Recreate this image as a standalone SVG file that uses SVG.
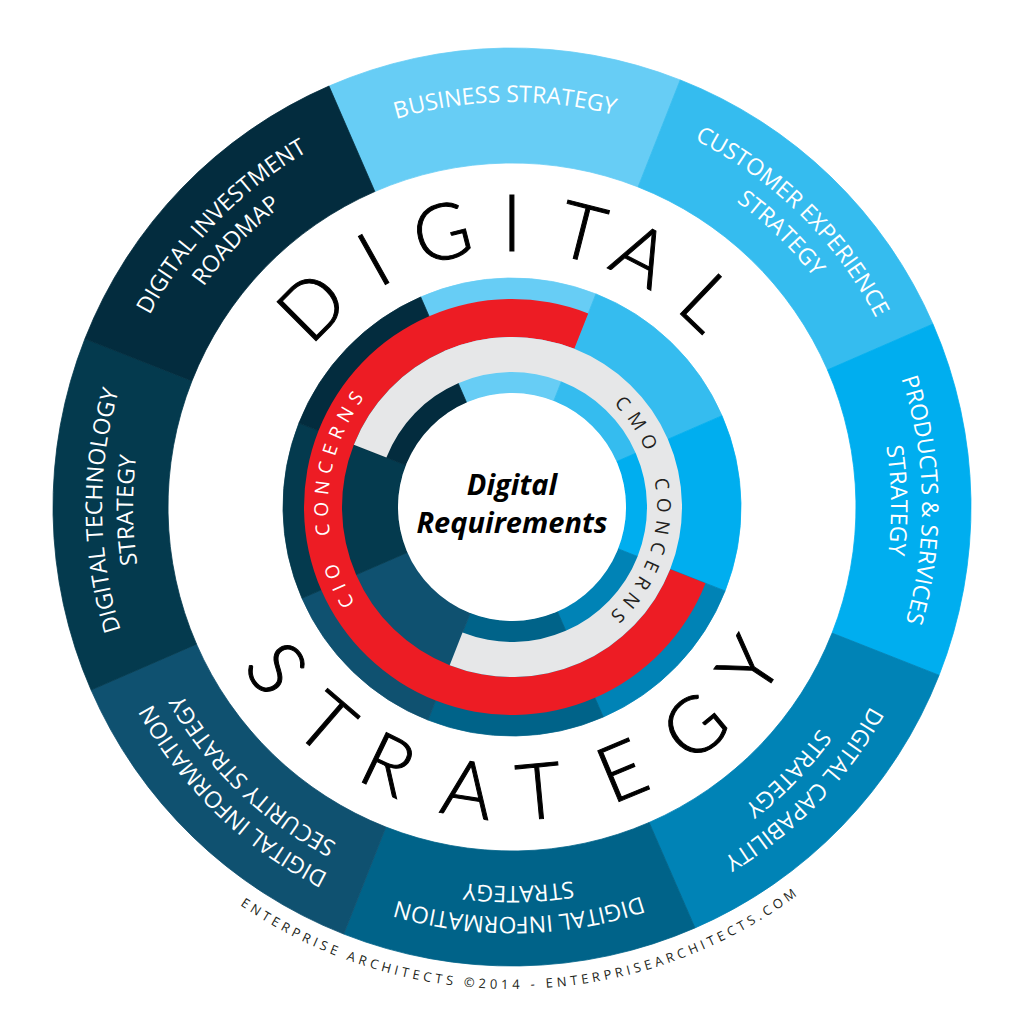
<svg xmlns="http://www.w3.org/2000/svg" width="1024" height="1016" viewBox="0 0 1024 1016">
<style>
.seg{stroke-width:0.8}
.c0{fill:#67CDF5;stroke:#67CDF5}
.c1{fill:#35BCEF;stroke:#35BCEF}
.c2{fill:#00AEEF;stroke:#00AEEF}
.c3{fill:#0083B6;stroke:#0083B6}
.c4{fill:#006389;stroke:#006389}
.c5{fill:#0F5170;stroke:#0F5170}
.c6{fill:#043A4E;stroke:#043A4E}
.c7{fill:#032C3E;stroke:#032C3E}
.lbl{font-family:"Open Sans","Noto Sans",sans-serif;font-size:23px;fill:#FFFFFF;text-anchor:middle}
.big{font-family:Lato,"Open Sans",sans-serif;font-weight:300;font-size:78px;fill:#000000;stroke:#000000;stroke-width:1;text-anchor:middle}
.concern{font-family:"Open Sans","Noto Sans",sans-serif;font-size:19px;text-anchor:middle}
.center{font-family:"Open Sans","Noto Sans",sans-serif;font-weight:700;font-style:italic;font-size:29px;fill:#000000;text-anchor:middle}
.foot{font-family:"Open Sans","Noto Sans",sans-serif;font-size:13px;fill:#231F20;text-anchor:middle;letter-spacing:3.9px}
</style>
<defs>
<path id="r405" d="M107,507 A405,405 0 0 1 917,507"/>
<path id="r410" d="M102,507 A410,410 0 0 1 922,507"/>
<path id="r379" d="M133,507 A379,379 0 0 1 891,507"/>
<path id="r184" d="M328,507 A184,184 0 0 1 696,507"/>
<path id="r145" d="M367,507 A145,145 0 0 1 657,507"/>
<path id="r482" d="M30,507 A482,482 0 0 0 994,507"/>
</defs>
<rect width="1024" height="1016" fill="#FFFFFF"/>

<g id="outer-ring">
<g id="business-strategy">
<path class="seg c0" d="M328.97,86.07 A459,459 0 0 1 680.22,79.94 L638.08,186.94 A344,344 0 0 0 374.83,191.53 Z"/>
<g transform="rotate(-1 512 507)"><text class="lbl"><textPath href="#r405" startOffset="50%">BUSINESS STRATEGY</textPath></text></g>
</g>
<g id="customer-experience-strategy">
<path class="seg c1" d="M680.22,79.94 A459,459 0 0 1 932.93,323.97 L827.47,369.83 A344,344 0 0 0 638.08,186.94 Z"/>
<g transform="rotate(44.5 512 507)"><text class="lbl"><textPath href="#r410" startOffset="50%">CUSTOMER EXPERIENCE</textPath></text><text class="lbl"><textPath href="#r379" startOffset="50%">STRATEGY</textPath></text></g>
</g>
<g id="products-services-strategy">
<path class="seg c2" d="M932.93,323.97 A459,459 0 0 1 939.06,675.22 L832.06,633.08 A344,344 0 0 0 827.47,369.83 Z"/>
<g transform="rotate(89 512 507)"><text class="lbl"><textPath href="#r410" startOffset="50%">PRODUCTS &amp; SERVICES</textPath></text><text class="lbl"><textPath href="#r379" startOffset="50%">STRATEGY</textPath></text></g>
</g>
<g id="digital-capability-strategy">
<path class="seg c3" d="M939.06,675.22 A459,459 0 0 1 695.03,927.93 L649.17,822.47 A344,344 0 0 0 832.06,633.08 Z"/>
<g transform="rotate(134 512 507)"><text class="lbl"><textPath href="#r410" startOffset="50%">DIGITAL CAPABILITY</textPath></text><text class="lbl"><textPath href="#r379" startOffset="50%">STRATEGY</textPath></text></g>
</g>
<g id="digital-information-strategy">
<path class="seg c4" d="M695.03,927.93 A459,459 0 0 1 343.78,934.06 L385.92,827.06 A344,344 0 0 0 649.17,822.47 Z"/>
<g transform="rotate(179 512 507)"><text class="lbl"><textPath href="#r410" startOffset="50%">DIGITAL INFORMATION</textPath></text><text class="lbl"><textPath href="#r379" startOffset="50%">STRATEGY</textPath></text></g>
</g>
<g id="digital-information-security-strategy">
<path class="seg c5" d="M343.78,934.06 A459,459 0 0 1 91.07,690.03 L196.53,644.17 A344,344 0 0 0 385.92,827.06 Z"/>
<g transform="rotate(224 512 507)"><text class="lbl"><textPath href="#r410" startOffset="50%">DIGITAL INFORMATION</textPath></text><text class="lbl"><textPath href="#r379" startOffset="50%">SECURITY STRATEGY</textPath></text></g>
</g>
<g id="digital-technology-strategy">
<path class="seg c6" d="M91.07,690.03 A459,459 0 0 1 84.94,338.78 L191.94,380.92 A344,344 0 0 0 196.53,644.17 Z"/>
<g transform="rotate(269.5 512 507)"><text class="lbl"><textPath href="#r410" startOffset="50%">DIGITAL TECHNOLOGY</textPath></text><text class="lbl"><textPath href="#r379" startOffset="50%">STRATEGY</textPath></text></g>
</g>
<g id="digital-investment-roadmap">
<path class="seg c7" d="M84.94,338.78 A459,459 0 0 1 328.97,86.07 L374.83,191.53 A344,344 0 0 0 191.94,380.92 Z"/>
<g transform="rotate(314 512 507)"><text class="lbl"><textPath href="#r410" startOffset="50%">DIGITAL INVESTMENT</textPath></text><text class="lbl"><textPath href="#r379" startOffset="50%">ROADMAP</textPath></text></g>
</g>
</g>

<g id="title-digital">
<text class="big" transform="rotate(-44.9 512 507)" x="512" y="251">D</text>
<text class="big" transform="rotate(-29.2 512 507)" x="512" y="251">I</text>
<text class="big" transform="rotate(-14.3 512 507)" x="512" y="251">G</text>
<text class="big" transform="rotate(0 512 507)" x="512" y="251">I</text>
<text class="big" transform="rotate(14.3 512 507)" x="512" y="251">T</text>
<text class="big" transform="rotate(27.2 512 507)" x="512" y="251">A</text>
<text class="big" transform="rotate(43.7 512 507)" x="512" y="251">L</text>
</g>
<g id="title-strategy">
<text class="big" transform="rotate(55.6 512 507)" x="512" y="820">S</text>
<text class="big" transform="rotate(40.7 512 507)" x="512" y="820">T</text>
<text class="big" transform="rotate(25.7 512 507)" x="512" y="820">R</text>
<text class="big" transform="rotate(8.9 512 507)" x="512" y="820">A</text>
<text class="big" transform="rotate(-5.4 512 507)" x="512" y="820">T</text>
<text class="big" transform="rotate(-22.6 512 507)" x="512" y="820">E</text>
<text class="big" transform="rotate(-39.8 512 507)" x="512" y="820">G</text>
<text class="big" transform="rotate(-56.2 512 507)" x="512" y="820">Y</text>
</g>

<g id="inner-ring">
<path class="seg c0" d="M420.69,296.99 A229,229 0 0 1 595.93,293.93 L553.78,400.93 A114,114 0 0 0 466.54,402.46 Z"/>
<path class="seg c1" d="M595.93,293.93 A229,229 0 0 1 722.01,415.69 L616.54,461.54 A114,114 0 0 0 553.78,400.93 Z"/>
<path class="seg c2" d="M722.01,415.69 A229,229 0 0 1 725.07,590.93 L618.07,548.78 A114,114 0 0 0 616.54,461.54 Z"/>
<path class="seg c3" d="M725.07,590.93 A229,229 0 0 1 603.31,717.01 L557.46,611.54 A114,114 0 0 0 618.07,548.78 Z"/>
<path class="seg c4" d="M603.31,717.01 A229,229 0 0 1 428.07,720.07 L470.22,613.07 A114,114 0 0 0 557.46,611.54 Z"/>
<path class="seg c5" d="M428.07,720.07 A229,229 0 0 1 301.99,598.31 L407.46,552.46 A114,114 0 0 0 470.22,613.07 Z"/>
<path class="seg c6" d="M301.99,598.31 A229,229 0 0 1 298.93,423.07 L405.93,465.22 A114,114 0 0 0 407.46,552.46 Z"/>
<path class="seg c7" d="M298.93,423.07 A229,229 0 0 1 420.69,296.99 L466.54,402.46 A114,114 0 0 0 405.93,465.22 Z"/>
</g>

<g id="cio-concerns">
<path fill="#ED1C24" d="M705.53,583.23 A208,208 0 1 1 588.23,313.47 L574.31,348.83 A170,170 0 1 0 670.17,569.31 Z"/>
<g transform="rotate(273.5 512 507)"><text class="concern" fill="#FFFFFF" style="letter-spacing:6.5px;word-spacing:10px"><textPath href="#r184" startOffset="50%">CIO CONCERNS</textPath></text></g>
</g>

<g id="cmo-concerns">
<path fill="#E6E7E8" d="M353.83,444.69 A170,170 0 1 1 449.69,665.17 L462.52,632.61 A135,135 0 1 0 386.39,457.52 Z"/>
<g transform="rotate(92.5 512 507)"><text class="concern" fill="#231F20" style="letter-spacing:7px;word-spacing:10px"><textPath href="#r145" startOffset="50%">CMO CONCERNS</textPath></text></g>
</g>

<g id="digital-requirements">
<circle cx="512" cy="507" r="114" fill="#FFFFFF"/>
<text class="center" x="512" y="495">Digital</text>
<text class="center" x="512" y="533">Requirements</text>
</g>

<g id="footer">
<g transform="rotate(-1.2 512 507)"><text class="foot"><textPath href="#r482" startOffset="50%">ENTERPRISE ARCHITECTS ©2014 - ENTERPRISEARCHITECTS.COM</textPath></text></g>
</g>
</svg>
